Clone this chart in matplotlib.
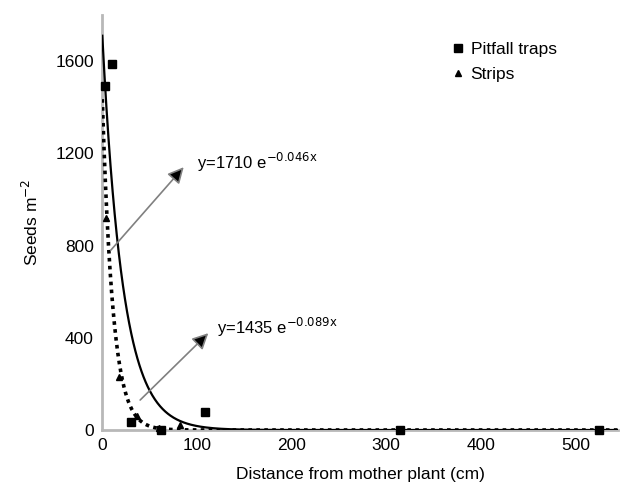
import numpy as np
import matplotlib.pyplot as plt

plt.rcParams['font.family'] = ['Liberation Sans', 'DejaVu Sans']

# Pitfall traps (squares)
pitfall_x = [3, 10, 30, 62, 108, 315, 525]
pitfall_y = [1490, 1588, 35, 2, 78, 0, 0]

# Strips (triangles)
strips_x = [4, 18, 37, 60, 82]
strips_y = [920, 230, 60, 8, 20]

# fitted curves y = a * exp(b * x), from the labels on the chart
pit_a, pit_b = 1710, -0.046
str_a, str_b = 1435, -0.089

fig = plt.figure(figsize=(6.2, 5.0), dpi=100)
ax = fig.add_axes([0.165, 0.14, 0.832, 0.83])

xs = np.linspace(0, 545, 1000)
ax.plot(xs, pit_a * np.exp(pit_b * xs), color='black', linewidth=1.6, zorder=3)
ax.plot(xs, str_a * np.exp(str_b * xs), color='black', linewidth=2.6,
        linestyle=(0, (1, 1.2)), zorder=3)

ax.plot(pitfall_x, pitfall_y, 's', color='black', markersize=6,
        linestyle='none', clip_on=False, zorder=5, label='Pitfall traps')
ax.plot(strips_x, strips_y, '^', color='black', markersize=4,
        linestyle='none', clip_on=False, zorder=5, label='Strips')

# arrows pointing at the curves
arrow_style = dict(arrowstyle='-|>', ec='#808080', fc='black', lw=1.2,
                   mutation_scale=24, shrinkA=0, shrinkB=0)
ax.annotate('', xy=(86, 1140), xytext=(9, 780), arrowprops=arrow_style)
ax.annotate('', xy=(112, 420), xytext=(40, 130), arrowprops=arrow_style)
ax.text(100, 1160, r'y=1710 e$^{\mathrm{-0.046x}}$', fontsize=12, va='center')
ax.text(121, 443, r'y=1435 e$^{\mathrm{-0.089x}}$', fontsize=12, va='center')

ax.set_xlim(0, 545)
ax.set_ylim(0, 1800)
ax.set_xticks([0, 100, 200, 300, 400, 500])
ax.set_yticks([0, 400, 800, 1200, 1600])
ax.tick_params(labelsize=12.5, length=0, pad=6)

for side in ['top', 'right']:
    ax.spines[side].set_visible(False)
for side in ['left', 'bottom']:
    ax.spines[side].set_color('#b8b8b8')
    ax.spines[side].set_linewidth(2)

ax.set_xlabel('Distance from mother plant (cm)', fontsize=12.5, labelpad=10)
ax.set_ylabel(r'Seeds m$^{-2}$', fontsize=12.5, labelpad=10)

ax.legend(loc='upper left', bbox_to_anchor=(0.672, 0.935), frameon=False,
          fontsize=12.5, handletextpad=0.25, handlelength=1.0,
          labelspacing=0.55, borderpad=0.0, borderaxespad=0.0)

plt.savefig('out.png', dpi=100)
